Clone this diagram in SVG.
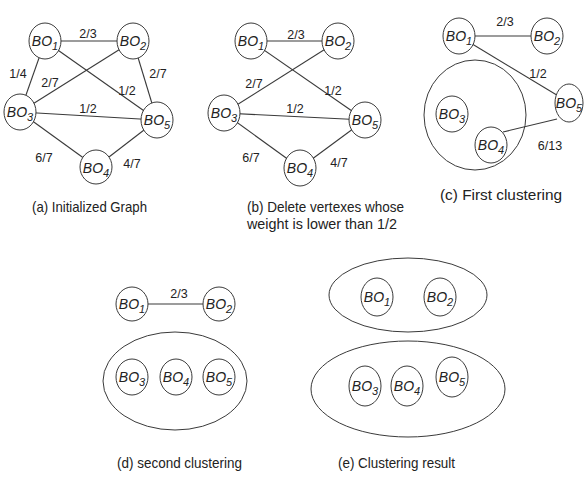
<svg xmlns="http://www.w3.org/2000/svg" width="584" height="477" viewBox="0 0 584 477">
  <style>
    .node { fill: #ffffff; stroke: #3a3a3a; stroke-width: 1; }
    .cluster { fill: none; stroke: #3a3a3a; stroke-width: 1; }
    .edge { stroke: #3a3a3a; stroke-width: 1.1; fill: none; }
    text { font-family: "Liberation Sans", Arial, sans-serif; fill: #222222; }
    .lbl { font-size: 14px; font-style: italic; text-anchor: middle; }
    .sub { font-size: 11px; }
    .w { font-size: 12.5px; text-anchor: middle; }
    .cap { font-size: 14.5px; }
  </style>

  <!-- edges are drawn first; the white node ellipses cover their ends -->
  <g id="connectors">
    <!-- (a) initialized graph -->
    <line class="edge" x1="45" y1="41" x2="133" y2="41"/>
    <line class="edge" x1="45" y1="41" x2="20" y2="112"/>
    <line class="edge" x1="45" y1="41" x2="157" y2="120"/>
    <line class="edge" x1="133" y1="41" x2="20" y2="112"/>
    <line class="edge" x1="133" y1="41" x2="157" y2="120"/>
    <line class="edge" x1="20" y1="112" x2="157" y2="120"/>
    <line class="edge" x1="20" y1="112" x2="96" y2="167"/>
    <line class="edge" x1="96" y1="167" x2="157" y2="120"/>
    <!-- (b) after deleting light edges -->
    <line class="edge" x1="251" y1="41" x2="338" y2="41"/>
    <line class="edge" x1="251" y1="41" x2="365" y2="120"/>
    <line class="edge" x1="338" y1="41" x2="224" y2="113"/>
    <line class="edge" x1="224" y1="113" x2="365" y2="120"/>
    <line class="edge" x1="224" y1="113" x2="300" y2="168"/>
    <line class="edge" x1="300" y1="168" x2="365" y2="120"/>
    <!-- (c) first clustering -->
    <line class="edge" x1="459" y1="36" x2="547" y2="36"/>
    <line class="edge" x1="459" y1="36" x2="570" y2="103"/>
    <line class="edge" x1="503" y1="132" x2="557" y2="119"/>
    <!-- (d) second clustering -->
    <line class="edge" x1="132" y1="304" x2="219" y2="304"/>
  </g>

  <!-- (a) -->
  <g id="a-bo1"><ellipse class="node" cx="45" cy="41" rx="16" ry="18"/><text class="lbl" x="45" y="46">BO<tspan class="sub" dy="4">1</tspan></text></g>
  <g id="a-bo2"><ellipse class="node" cx="133" cy="41" rx="16" ry="18"/><text class="lbl" x="133" y="46">BO<tspan class="sub" dy="4">2</tspan></text></g>
  <g id="a-bo3"><ellipse class="node" cx="20" cy="112" rx="16" ry="18"/><text class="lbl" x="20" y="117">BO<tspan class="sub" dy="4">3</tspan></text></g>
  <g id="a-bo4"><ellipse class="node" cx="96" cy="167" rx="16" ry="17"/><text class="lbl" x="96" y="173">BO<tspan class="sub" dy="4">4</tspan></text></g>
  <g id="a-bo5"><ellipse class="node" cx="157" cy="120" rx="16" ry="18"/><text class="lbl" x="157" y="125">BO<tspan class="sub" dy="4">5</tspan></text></g>
  <g id="a-weights">
    <text class="w" x="88" y="38">2/3</text>
    <text class="w" x="18" y="78">1/4</text>
    <text class="w" x="50" y="87">2/7</text>
    <text class="w" x="127" y="95">1/2</text>
    <text class="w" x="158" y="78">2/7</text>
    <text class="w" x="88" y="113">1/2</text>
    <text class="w" x="44" y="162">6/7</text>
    <text class="w" x="132" y="168">4/7</text>
  </g>
  <text class="cap" x="32" y="212" textLength="115" lengthAdjust="spacingAndGlyphs">(a) Initialized Graph</text>

  <!-- (b) -->
  <g id="b-bo1"><ellipse class="node" cx="251" cy="41" rx="16" ry="18"/><text class="lbl" x="251" y="46">BO<tspan class="sub" dy="4">1</tspan></text></g>
  <g id="b-bo2"><ellipse class="node" cx="338" cy="41" rx="16" ry="18"/><text class="lbl" x="338" y="46">BO<tspan class="sub" dy="4">2</tspan></text></g>
  <g id="b-bo3"><ellipse class="node" cx="224" cy="113" rx="16" ry="18"/><text class="lbl" x="224" y="118">BO<tspan class="sub" dy="4">3</tspan></text></g>
  <g id="b-bo4"><ellipse class="node" cx="300" cy="168" rx="16" ry="18"/><text class="lbl" x="300" y="173">BO<tspan class="sub" dy="4">4</tspan></text></g>
  <g id="b-bo5"><ellipse class="node" cx="365" cy="120" rx="16" ry="18"/><text class="lbl" x="365" y="125">BO<tspan class="sub" dy="4">5</tspan></text></g>
  <g id="b-weights">
    <text class="w" x="296" y="39">2/3</text>
    <text class="w" x="254" y="88">2/7</text>
    <text class="w" x="333" y="95">1/2</text>
    <text class="w" x="295" y="113">1/2</text>
    <text class="w" x="251" y="162">6/7</text>
    <text class="w" x="339" y="167">4/7</text>
  </g>
  <text class="cap" x="247" y="212" textLength="157" lengthAdjust="spacingAndGlyphs">(b) Delete vertexes whose</text>
  <text class="cap" x="247" y="229" textLength="150" lengthAdjust="spacingAndGlyphs">weight is lower than 1/2</text>

  <!-- (c) -->
  <g id="c-cluster"><ellipse class="cluster" cx="475" cy="115" rx="51" ry="55"/></g>
  <g id="c-bo1"><ellipse class="node" cx="459" cy="36" rx="16" ry="18"/><text class="lbl" x="459" y="41">BO<tspan class="sub" dy="4">1</tspan></text></g>
  <g id="c-bo2"><ellipse class="node" cx="547" cy="36" rx="16" ry="18"/><text class="lbl" x="547" y="41">BO<tspan class="sub" dy="4">2</tspan></text></g>
  <g id="c-bo3"><ellipse class="node" cx="452" cy="114" rx="16" ry="18"/><text class="lbl" x="452" y="119">BO<tspan class="sub" dy="4">3</tspan></text></g>
  <g id="c-bo4"><ellipse class="node" cx="491" cy="145" rx="16" ry="18"/><text class="lbl" x="491" y="150">BO<tspan class="sub" dy="4">4</tspan></text></g>
  <g id="c-bo5"><ellipse class="node" cx="569" cy="103" rx="14" ry="19"/><text class="lbl" x="569" y="108">BO<tspan class="sub" dy="4">5</tspan></text></g>
  <g id="c-weights">
    <text class="w" x="505" y="26">2/3</text>
    <text class="w" x="538" y="78">1/2</text>
    <text class="w" x="550" y="150">6/13</text>
  </g>
  <text class="cap" x="440" y="200" textLength="122" lengthAdjust="spacingAndGlyphs">(c) First clustering</text>

  <!-- (d) -->
  <g id="d-cluster"><ellipse class="cluster" cx="175" cy="381" rx="72" ry="49"/></g>
  <g id="d-bo1"><ellipse class="node" cx="132" cy="304" rx="16" ry="17"/><text class="lbl" x="132" y="309">BO<tspan class="sub" dy="4">1</tspan></text></g>
  <g id="d-bo2"><ellipse class="node" cx="219" cy="304" rx="16" ry="17"/><text class="lbl" x="219" y="309">BO<tspan class="sub" dy="4">2</tspan></text></g>
  <g id="d-bo3"><ellipse class="node" cx="132" cy="377" rx="16" ry="18"/><text class="lbl" x="132" y="382">BO<tspan class="sub" dy="4">3</tspan></text></g>
  <g id="d-bo4"><ellipse class="node" cx="176" cy="377" rx="16" ry="18"/><text class="lbl" x="176" y="382">BO<tspan class="sub" dy="4">4</tspan></text></g>
  <g id="d-bo5"><ellipse class="node" cx="219" cy="377" rx="16" ry="18"/><text class="lbl" x="219" y="382">BO<tspan class="sub" dy="4">5</tspan></text></g>
  <text class="w" x="179" y="298">2/3</text>
  <text class="cap" x="117" y="468" textLength="125" lengthAdjust="spacingAndGlyphs">(d) second clustering</text>

  <!-- (e) -->
  <g id="e-cluster-top"><ellipse class="cluster" cx="408" cy="295" rx="79" ry="37"/></g>
  <g id="e-cluster-bottom"><ellipse class="cluster" cx="408" cy="389" rx="97" ry="48"/></g>
  <g id="e-bo1"><ellipse class="node" cx="377" cy="297" rx="16" ry="19"/><text class="lbl" x="377" y="302">BO<tspan class="sub" dy="4">1</tspan></text></g>
  <g id="e-bo2"><ellipse class="node" cx="440" cy="297" rx="16" ry="19"/><text class="lbl" x="440" y="302">BO<tspan class="sub" dy="4">2</tspan></text></g>
  <g id="e-bo3"><ellipse class="node" cx="365" cy="386" rx="16" ry="20"/><text class="lbl" x="365" y="391">BO<tspan class="sub" dy="4">3</tspan></text></g>
  <g id="e-bo4"><ellipse class="node" cx="407" cy="386" rx="16" ry="20"/><text class="lbl" x="407" y="391">BO<tspan class="sub" dy="4">4</tspan></text></g>
  <g id="e-bo5"><ellipse class="node" cx="452" cy="377" rx="16" ry="20"/><text class="lbl" x="452" y="382">BO<tspan class="sub" dy="4">5</tspan></text></g>
  <text class="cap" x="338" y="468" textLength="117" lengthAdjust="spacingAndGlyphs">(e) Clustering result</text>
</svg>
